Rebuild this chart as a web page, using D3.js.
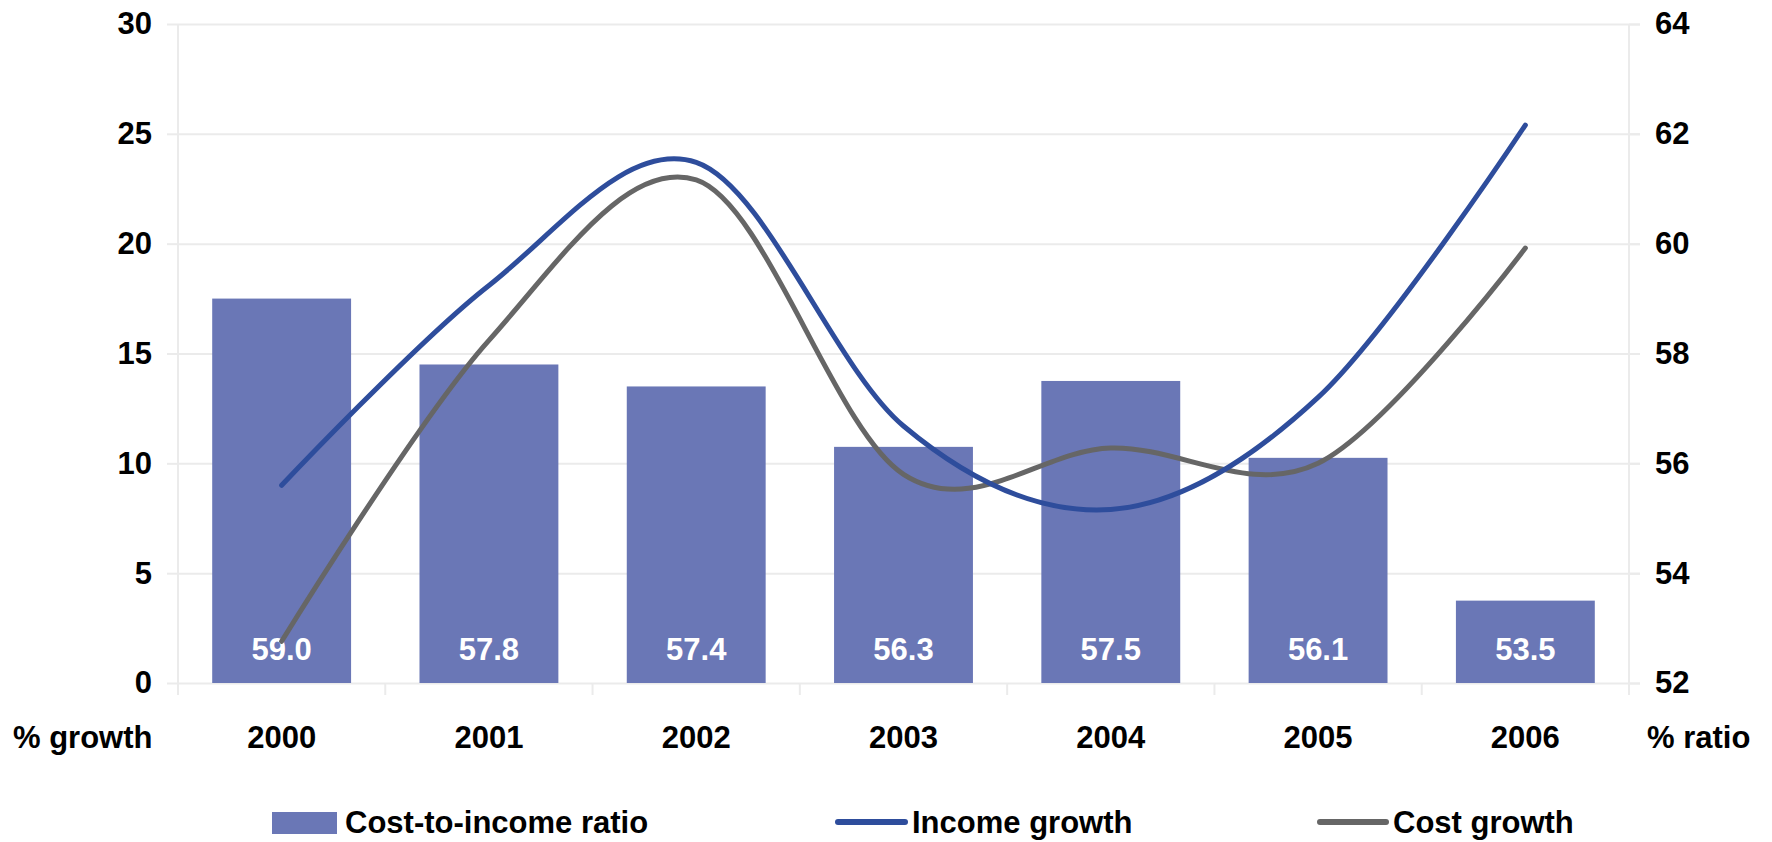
<!DOCTYPE html>
<html>
<head>
<meta charset="utf-8">
<script src="https://cdn.jsdelivr.net/npm/d3@7"></script>
<style>
  html, body { margin: 0; padding: 0; background: #ffffff; }
  svg { display: block; }
  text { font-family: Arial, "Liberation Sans", sans-serif; font-weight: bold; }
</style>
</head>
<body>
<div id="chart"></div>
<script>
// ---- data ----
const years = ["2000", "2001", "2002", "2003", "2004", "2005", "2006"];
const costIncomeRatio = [59.0, 57.8, 57.4, 56.3, 57.5, 56.1, 53.5];
const incomeGrowth = [9.0, 18.1, 23.7, 11.7, 7.9, 13.0, 25.4];
const costGrowth = [1.9, 15.6, 22.9, 9.5, 10.7, 10.0, 19.8];
const leftTicks = [0, 5, 10, 15, 20, 25, 30];
const rightTicks = [52, 54, 56, 58, 60, 62, 64];
const seriesNames = ["Cost-to-income ratio", "Income growth", "Cost growth"];

// ---- layout ----
const W = 1772, H = 842;
const pLeft = 178, pRight = 1629, pTop = 24, pBottom = 683;
const colBar = "#6A77B6", colIncome = "#2E4D9C", colCost = "#666666";
const gridCol = "#EBEBEB";
const fontSize = 31;

const svg = d3.select("#chart").append("svg").attr("width", W).attr("height", H);

const x = d3.scaleBand().domain(years).range([pLeft, pRight]).padding(0);
const yL = d3.scaleLinear().domain([0, 30]).range([pBottom, pTop]);
const yR = d3.scaleLinear().domain([52, 64]).range([pBottom, pTop]);
const bw = x.bandwidth();
const barW = bw * 0.67;
const cx = d => x(d) + bw / 2;

// gridlines (left axis ticks, extend outward on both sides)
const gAxisL = svg.append("g").attr("transform", `translate(${pLeft},0)`)
  .call(d3.axisLeft(yL).tickValues(leftTicks).tickSize(11).tickPadding(15));
gAxisL.select(".domain").remove();
gAxisL.selectAll(".tick line").attr("stroke", gridCol).attr("stroke-width", 2);
gAxisL.selectAll(".tick").append("line")
  .attr("x1", 0).attr("x2", pRight - pLeft + 11)
  .attr("stroke", gridCol).attr("stroke-width", 2);
gAxisL.selectAll(".tick text").attr("fill", "#000").style("font-size", fontSize + "px")
  .style("font-family", "Arial, 'Liberation Sans', sans-serif").style("font-weight", "bold");

const gAxisR = svg.append("g").attr("transform", `translate(${pRight},0)`)
  .call(d3.axisRight(yR).tickValues(rightTicks).tickSize(11).tickPadding(15));
gAxisR.select(".domain").remove();
gAxisR.selectAll(".tick line").attr("stroke", gridCol).attr("stroke-width", 2);
gAxisR.selectAll(".tick text").attr("fill", "#000").style("font-size", fontSize + "px")
  .style("font-family", "Arial, 'Liberation Sans', sans-serif").style("font-weight", "bold");

// vertical axis lines
svg.append("line").attr("x1", pLeft).attr("x2", pLeft).attr("y1", pTop).attr("y2", pBottom + 12)
  .attr("stroke", gridCol).attr("stroke-width", 2);
svg.append("line").attr("x1", pRight).attr("x2", pRight).attr("y1", pTop).attr("y2", pBottom + 12)
  .attr("stroke", gridCol).attr("stroke-width", 2);

// bottom axis ticks between categories
const boundaries = years.slice(1).map(d => x(d));
svg.append("g").selectAll("line").data(boundaries).join("line")
  .attr("x1", d => d).attr("x2", d => d).attr("y1", pBottom).attr("y2", pBottom + 12)
  .attr("stroke", gridCol).attr("stroke-width", 2);

// category labels
svg.append("g").selectAll("text").data(years).join("text")
  .attr("x", d => cx(d)).attr("y", 748).attr("text-anchor", "middle")
  .style("font-size", fontSize + "px").attr("fill", "#000").text(d => d);

svg.append("text").attr("x", 13).attr("y", 748).style("font-size", fontSize + "px")
  .attr("fill", "#000").text("% growth");
svg.append("text").attr("x", 1647).attr("y", 748).style("font-size", fontSize + "px")
  .attr("fill", "#000").text("% ratio");

// bars
svg.append("g").selectAll("rect").data(years).join("rect")
  .attr("x", d => cx(d) - barW / 2)
  .attr("y", (d, i) => yR(costIncomeRatio[i]))
  .attr("width", barW)
  .attr("height", (d, i) => yR(52) - yR(costIncomeRatio[i]))
  .attr("fill", colBar);

// bar labels
svg.append("g").selectAll("text").data(years).join("text")
  .attr("x", d => cx(d)).attr("y", pBottom - 23).attr("text-anchor", "middle")
  .style("font-size", fontSize + "px").attr("fill", "#ffffff")
  .text((d, i) => costIncomeRatio[i].toFixed(1));

// lines
const line = d3.line().x(d => cx(d[0])).y(d => yL(d[1])).curve(d3.curveCardinal.tension(0));
svg.append("path").datum(years.map((d, i) => [d, costGrowth[i]]))
  .attr("d", line).attr("fill", "none").attr("stroke", colCost)
  .attr("stroke-width", 5).attr("stroke-linecap", "round").attr("stroke-linejoin", "round");
svg.append("path").datum(years.map((d, i) => [d, incomeGrowth[i]]))
  .attr("d", line).attr("fill", "none").attr("stroke", colIncome)
  .attr("stroke-width", 5).attr("stroke-linecap", "round").attr("stroke-linejoin", "round");

// legend
const lg = svg.append("g");
lg.append("rect").attr("x", 272).attr("y", 812).attr("width", 65).attr("height", 22).attr("fill", colBar);
lg.append("text").attr("x", 345).attr("y", 833).style("font-size", fontSize + "px").attr("fill", "#000").text(seriesNames[0]);
lg.append("line").attr("x1", 838).attr("x2", 905).attr("y1", 822).attr("y2", 822)
  .attr("stroke", colIncome).attr("stroke-width", 6).attr("stroke-linecap", "round");
lg.append("text").attr("x", 912).attr("y", 833).style("font-size", fontSize + "px").attr("fill", "#000").text(seriesNames[1]);
lg.append("line").attr("x1", 1320).attr("x2", 1386).attr("y1", 822).attr("y2", 822)
  .attr("stroke", colCost).attr("stroke-width", 6).attr("stroke-linecap", "round");
lg.append("text").attr("x", 1393).attr("y", 833).style("font-size", fontSize + "px").attr("fill", "#000").text(seriesNames[2]);
</script>
</body>
</html>
